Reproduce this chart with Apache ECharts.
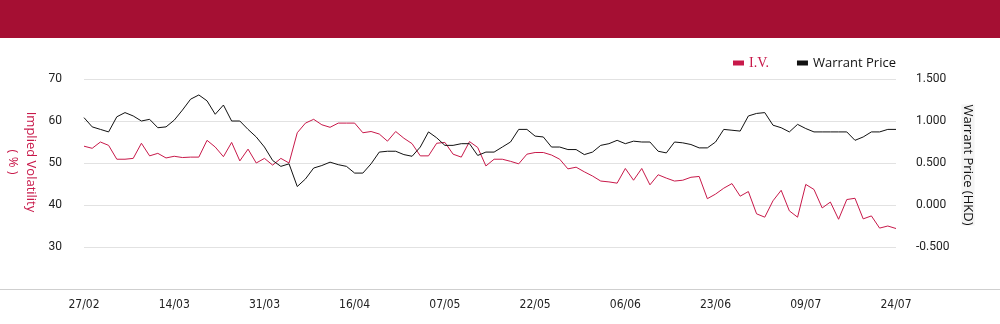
<!DOCTYPE html>
<html>
<head>
<meta charset="utf-8">
<script src="https://cdn.jsdelivr.net/npm/echarts@6/dist/echarts.min.js"></script>
<style>
html,body{margin:0;padding:0;background:#fff;}
#chart{width:1000px;height:324px;}
</style>
</head>
<body>
<div id="chart"></div>
<script>
const dates = [
"27/02","28/02","03/03","04/03","05/03","06/03","07/03","10/03","11/03","12/03",
"13/03","14/03","17/03","18/03","19/03","20/03","21/03","24/03","25/03","26/03",
"27/03","28/03","31/03","01/04","02/04","03/04","07/04","08/04","09/04","10/04",
"11/04","14/04","15/04","16/04","17/04","22/04","23/04","24/04","25/04","28/04",
"29/04","30/04","02/05","06/05","07/05","08/05","09/05","12/05","13/05","14/05",
"15/05","16/05","19/05","20/05","21/05","22/05","23/05","26/05","27/05","28/05",
"29/05","30/05","02/06","03/06","04/06","05/06","06/06","09/06","10/06","11/06",
"12/06","13/06","16/06","17/06","18/06","19/06","20/06","23/06","24/06","25/06",
"26/06","27/06","30/06","02/07","03/07","04/07","07/07","08/07","09/07","10/07",
"11/07","14/07","15/07","16/07","17/07","18/07","21/07","22/07","23/07","24/07"
];
const impliedVol = [
54.0,53.5,55.0,54.2,50.9,50.9,51.1,54.7,51.7,52.3,
51.2,51.6,51.3,51.4,51.4,55.4,53.8,51.5,54.9,50.5,
53.3,50.0,51.1,49.5,51.1,50.0,57.2,59.5,60.4,59.1,
58.5,59.5,59.5,59.5,57.2,57.5,56.9,55.2,57.5,55.9,
54.6,51.7,51.7,54.7,54.9,52.1,51.4,55.1,53.7,49.3,
50.9,50.9,50.4,49.8,52.1,52.5,52.5,51.9,50.9,48.6,
49.0,47.9,46.9,45.7,45.5,45.2,48.7,45.9,48.7,44.8,
47.2,46.4,45.7,45.9,46.6,46.8,41.5,42.6,44.0,45.1,
42.1,43.2,37.9,37.1,41.0,43.5,38.6,37.1,44.9,43.7,
39.3,40.7,36.6,41.3,41.6,36.7,37.4,34.5,35.0,34.4
];
const warrantPrice = [
1.04,0.93,0.90,0.87,1.05,1.10,1.06,1.00,1.02,0.92,
0.93,1.01,1.13,1.26,1.31,1.24,1.08,1.19,1.00,1.00,
0.90,0.81,0.69,0.53,0.46,0.49,0.22,0.31,0.44,0.47,
0.51,0.48,0.46,0.38,0.38,0.49,0.63,0.64,0.64,0.60,
0.58,0.69,0.87,0.80,0.71,0.71,0.73,0.73,0.59,0.63,
0.63,0.69,0.75,0.90,0.90,0.82,0.81,0.69,0.69,0.66,
0.66,0.60,0.63,0.71,0.73,0.77,0.73,0.76,0.75,0.75,
0.64,0.62,0.75,0.74,0.72,0.68,0.68,0.75,0.90,0.89,
0.88,1.06,1.09,1.10,0.95,0.92,0.87,0.96,0.91,0.87,
0.87,0.87,0.87,0.87,0.77,0.81,0.87,0.87,0.90,0.90
];
const leftTicks = {min:20, max:70, interval:10};
const rightTicks = {min:-1, max:1.5, interval:0.5};

const RED = '#c8194a';
const chart = echarts.init(document.getElementById('chart'), null, {renderer:'canvas'});
chart.setOption({
  animation:false,
  backgroundColor:'#fff',
  graphic:[
    {type:'rect', shape:{x:0,y:0,width:1000,height:38}, style:{fill:'#a50f33'}, z:10},
    {type:'line', shape:{x1:0,y1:289.5,x2:1000,y2:289.5}, style:{stroke:'#cfcfcf',lineWidth:1}, z:10},
    {type:'text', x:22, y:162, rotation:-Math.PI/2, z:10,
      style:{text:'Implied Volatility\n( % )', fill:RED, font:'13px "Open Sans"', textAlign:'center', textVerticalAlign:'middle', lineHeight:18}},
    {type:'text', x:968, y:165, rotation:-Math.PI/2, z:10,
      style:{text:'Warrant Price (HKD)', fill:'#111', font:'13px "Open Sans"', textAlign:'center', textVerticalAlign:'middle', backgroundColor:'#f4f4f4'}}
  ],
  legend:{
    left:728, top:51, icon:'rect', itemWidth:11, itemHeight:5, itemGap:28,
    textStyle:{fontSize:13, fontFamily:'Open Sans', color:'#111'},
    data:[
      {name:'I.V.', textStyle:{color:RED, fontFamily:'Liberation Serif', fontSize:14}},
      {name:'Warrant Price'}
    ]
  },
  grid:{left:84, right:104, top:79, bottom:35},
  xAxis:{
    type:'category', data:dates, boundaryGap:false,
    axisLine:{show:false}, axisTick:{show:false},
    axisLabel:{interval:10, color:'#222', fontSize:12, fontFamily:'"DejaVu Sans Condensed", "Liberation Sans", sans-serif', margin:10},
    splitLine:{show:false}
  },
  yAxis:[
    {type:'value', min:leftTicks.min, max:leftTicks.max, interval:leftTicks.interval,
      axisLine:{show:false}, axisTick:{show:false},
      axisLabel:{color:'#222', fontSize:12, fontFamily:'Roboto', margin:22, formatter:v=> v===leftTicks.min?'':String(v)},
      splitLine:{lineStyle:{color:'#e2e2e2', width:1}}},
    {type:'value', min:rightTicks.min, max:rightTicks.max, interval:rightTicks.interval,
      axisLine:{show:false}, axisTick:{show:false},
      axisLabel:{color:'#222', fontSize:12, fontFamily:'Roboto', margin:20, formatter:v=> Math.abs(v-rightTicks.min)<1e-9?'':v.toFixed(3)},
      splitLine:{show:false}}
  ],
  series:[
    {name:'I.V.', type:'line', data:impliedVol, yAxisIndex:0, showSymbol:false, symbol:'none',
      lineStyle:{color:RED, width:1}, itemStyle:{color:RED}},
    {name:'Warrant Price', type:'line', data:warrantPrice, yAxisIndex:1, showSymbol:false, symbol:'none',
      lineStyle:{color:'#111', width:1}, itemStyle:{color:'#111'}}
  ]
});
</script>
</body>
</html>
